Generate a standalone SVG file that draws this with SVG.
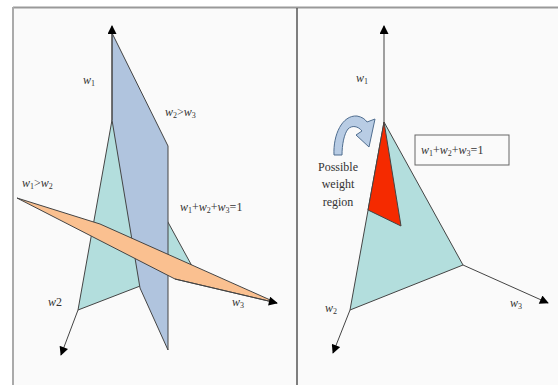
<svg xmlns="http://www.w3.org/2000/svg" width="558" height="385" viewBox="0 0 558 385">
<defs>
<style>
.lbl{font-family:"Liberation Serif","Times New Roman",serif;font-size:12px;fill:#333}
.it{font-style:italic}
.pl{stroke:#444;stroke-width:1;stroke-linejoin:round}
.ax{stroke:#444;stroke-width:1;fill:none}
</style>
<marker id="ah" viewBox="0 0 10 10" refX="9" refY="5" markerWidth="10" markerHeight="9" markerUnits="userSpaceOnUse" orient="auto">
<path d="M0,0 L10,5 L0,10 Z" fill="#000"/>
</marker>
</defs>
<rect width="558" height="385" fill="#fff"/>
<g id="frame">
<rect x="13" y="8" width="545" height="377" fill="#fafafa"/>
<line x1="13" y1="7.5" x2="558" y2="7.5" stroke="#999" stroke-width="2"/>
<line x1="13" y1="7" x2="13" y2="385" stroke="#aaa" stroke-width="2"/>
<line x1="297" y1="8" x2="297" y2="385" stroke="#555" stroke-width="1.5"/>
</g>
<g id="left-simplex">
<polygon class="pl" points="112,120 78,310 192,266" fill="#b3dedd"/>
</g>
<g id="plane-w2-w3">
<polygon class="pl" points="112,33 168,146 168,350 140,288 112,120" fill="#b0c4de"/>
</g>
<g id="plane-w1-w2">
<polygon class="pl" points="17,198 100,224 277,303 175,279" fill="#fac090"/>
</g>
<g id="right-simplex">
<polygon class="pl" points="384,122 350,310 463,265" fill="#b3dedd"/>
</g>
<g id="weight-region">
<polygon class="pl" points="384,122 368,210 401,226" fill="#f52a00"/>
</g>
<g id="curved-arrow">
<path d="M334,155 C333,135 342,115 357,116 C362,117 365,119 367,122 L375,119 L369,147 L356,135 L362,131 C358,126 352,125 348,129 C344,134 342,145 342,155 Z" fill="#b8cce4" stroke="#4f6d8f" stroke-width="1"/>
</g>
<g id="connectors">
<line class="ax" x1="112" y1="120" x2="112" y2="26" marker-end="url(#ah)"/>
<line class="ax" x1="78" y1="310" x2="61" y2="355" marker-end="url(#ah)"/>
<line class="ax" x1="175" y1="279" x2="277" y2="303" stroke="none" marker-end="url(#ah)"/>
<line class="ax" x1="384" y1="122" x2="384" y2="26" stroke="#888" marker-end="url(#ah)"/>
<line class="ax" x1="350" y1="310" x2="333" y2="353" marker-end="url(#ah)"/>
<line class="ax" x1="463" y1="265" x2="548" y2="303" marker-end="url(#ah)"/>
</g>
<g id="labels-left">
<text class="lbl" x="83" y="84"><tspan class="it">w</tspan><tspan font-size="8" dy="2">1</tspan></text>
<text class="lbl" x="165" y="116"><tspan class="it">w</tspan><tspan font-size="8" dy="2">2</tspan><tspan dy="-2">&gt;</tspan><tspan class="it">w</tspan><tspan font-size="8" dy="2">3</tspan></text>
<text class="lbl" x="22" y="187"><tspan class="it">w</tspan><tspan font-size="8" dy="2">1</tspan><tspan dy="-2">&gt;</tspan><tspan class="it">w</tspan><tspan font-size="8" dy="2">2</tspan></text>
<text class="lbl" x="180" y="211"><tspan class="it">w</tspan><tspan font-size="8" dy="2">1</tspan><tspan dy="-2">+</tspan><tspan class="it">w</tspan><tspan font-size="8" dy="2">2</tspan><tspan dy="-2">+</tspan><tspan class="it">w</tspan><tspan font-size="8" dy="2">3</tspan><tspan dy="-2">=1</tspan></text>
<text class="lbl" x="48" y="306"><tspan class="it">w</tspan>2</text>
<text class="lbl" x="232" y="306"><tspan class="it">w</tspan><tspan font-size="8" dy="2">3</tspan></text>
</g>
<g id="labels-right">
<text class="lbl" x="356" y="82"><tspan class="it">w</tspan><tspan font-size="8" dy="2">1</tspan></text>
<g id="sum-box">
<rect x="415" y="135" width="94" height="30" fill="#fafafa" stroke="#666" stroke-width="1"/>
<text class="lbl" x="421" y="154"><tspan class="it">w</tspan><tspan font-size="8" dy="2">1</tspan><tspan dy="-2">+</tspan><tspan class="it">w</tspan><tspan font-size="8" dy="2">2</tspan><tspan dy="-2">+</tspan><tspan class="it">w</tspan><tspan font-size="8" dy="2">3</tspan><tspan dy="-2">=1</tspan></text>
</g>
<text class="lbl" text-anchor="middle" x="338" y="171">Possible</text>
<text class="lbl" text-anchor="middle" x="338" y="188">weight</text>
<text class="lbl" text-anchor="middle" x="338" y="206">region</text>
<text class="lbl" x="325" y="312"><tspan class="it">w</tspan><tspan font-size="8" dy="2">2</tspan></text>
<text class="lbl" x="510" y="307"><tspan class="it">w</tspan><tspan font-size="8" dy="2">3</tspan></text>
</g>
</svg>
